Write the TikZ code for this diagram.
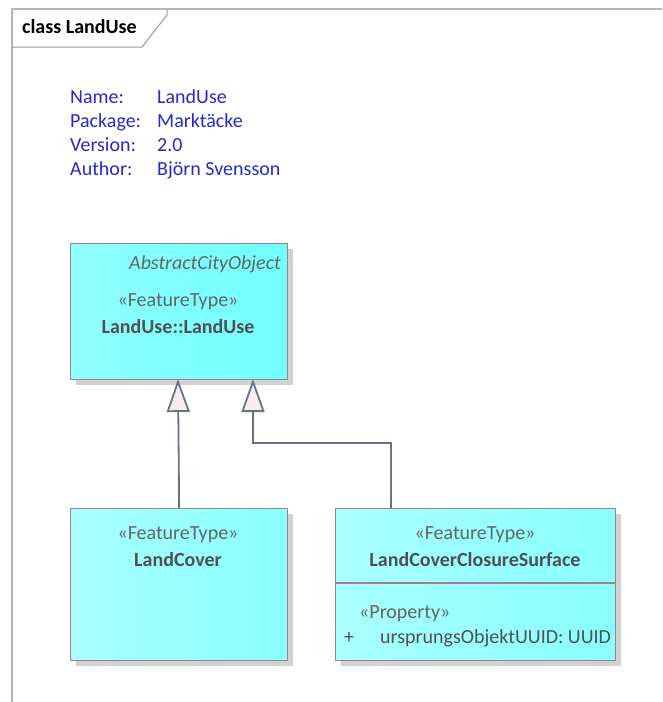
\documentclass[tikz,border=0pt]{standalone}
\usepackage{fontspec}
\setmainfont{Carlito}
\usetikzlibrary{arrows.meta,shadows}
\definecolor{bluetxt}{RGB}{40,40,200}
\definecolor{boxtxt}{RGB}{80,80,80}
\definecolor{sttxt}{RGB}{100,100,100}
\definecolor{border}{RGB}{160,130,130}
\definecolor{framec}{RGB}{180,180,180}
\definecolor{tabc}{RGB}{150,150,150}
\definecolor{connc}{RGB}{106,112,144}
\definecolor{trifill}{RGB}{245,238,234}
\definecolor{luL}{RGB}{144,255,255}
\definecolor{luR}{RGB}{112,255,255}
\definecolor{lcL}{RGB}{170,255,255}
\definecolor{lcR}{RGB}{136,255,255}
\tikzset{
  clsbox/.style={draw=border, line width=1.3pt, anchor=north west, inner sep=0pt,
    drop shadow={shadow xshift=5pt, shadow yshift=-5pt, fill=black!18, opacity=1}},
  txt/.style={inner sep=0pt, text height=13pt, text depth=4pt, font=\fontsize{20}{24}\selectfont},
  btxt/.style={txt, text=bluetxt, anchor=west},
  sttext/.style={txt, text=sttxt},
  nmtext/.style={txt, text=boxtxt, font=\fontsize{20}{24}\selectfont\bfseries},
  gen/.style={draw=connc, line width=1.8pt, -{Triangle[length=33pt,width=23pt,fill=trifill]}}
}
\begin{document}
\begin{tikzpicture}[x=1pt,y=-1pt]
\useasboundingbox (0,0) rectangle (662,702);
% frame
\draw[framec, line width=2pt] (12,702) -- (12,9) -- (662,9);
\draw[tabc, line width=1pt] (12,47) -- (142,47) -- (167,15) -- (167,9);
\node[txt, font=\fontsize{20}{24}\selectfont\bfseries, anchor=west] (title) at (22,29) {class LandUse};
% info
\node[btxt] (n1) at (70,98.5) {Name:};
\node[btxt] (n2) at (70,122.5) {Package:};
\node[btxt] (n3) at (70,146.5) {Version:};
\node[btxt] (n4) at (70,170.5) {Author:};
\node[btxt] (v1) at (157,98.5) {LandUse};
\node[btxt] (v2) at (157,122.5) {Marktäcke};
\node[btxt] (v3) at (157,146.5) {2.0};
\node[btxt] (v4) at (157,170.5) {Björn Svensson};
% boxes
\node[clsbox, left color=luL, right color=luR, minimum width=217pt, minimum height=136pt] (lu) at (70,243) {};
\node[clsbox, left color=lcL, right color=lcR, minimum width=217pt, minimum height=152pt] (lc) at (70,508) {};
\node[clsbox, left color=lcL, right color=lcR, minimum width=280pt, minimum height=152pt] (lccs) at (335,508) {};
\draw[border, line width=1.3pt] (lccs.west |- 0,583) coordinate (sepl) -- (lccs.east |- 0,583) coordinate (sepr);
% box texts
\node[txt, text=sttxt, font=\fontsize{20}{24}\selectfont\itshape, anchor=east] (abs) at (281,264.5) {AbstractCityObject};
\node[sttext] (lust) at (178,301.5) {«FeatureType»};
\node[nmtext] (lunm) at (178,328.5) {LandUse::LandUse};
\node[sttext] (lcst) at (178,534.5) {«FeatureType»};
\node[nmtext] (lcnm) at (178,561.5) {LandCover};
\node[sttext] (lccsst) at (475,534.5) {«FeatureType»};
\node[nmtext] (lccsnm) at (475,561.5) {LandCoverClosureSurface};
\node[sttext, anchor=west] (prop) at (359,613.5) {«Property»};
\node[txt, text=boxtxt, anchor=west] (plus) at (344,638.5) {+};
\node[txt, text=boxtxt, anchor=west] (attr) at (380,638.5) {ursprungsObjektUUID: UUID};
% connectors
\coordinate (t1) at (178,379);
\coordinate (t2) at (253,379);
\coordinate (s2) at (391,508);
\draw[gen] (lc.north) -- (t1);
\draw[gen] (s2) -- (391,443) -| (t2);
\end{tikzpicture}
\end{document}
